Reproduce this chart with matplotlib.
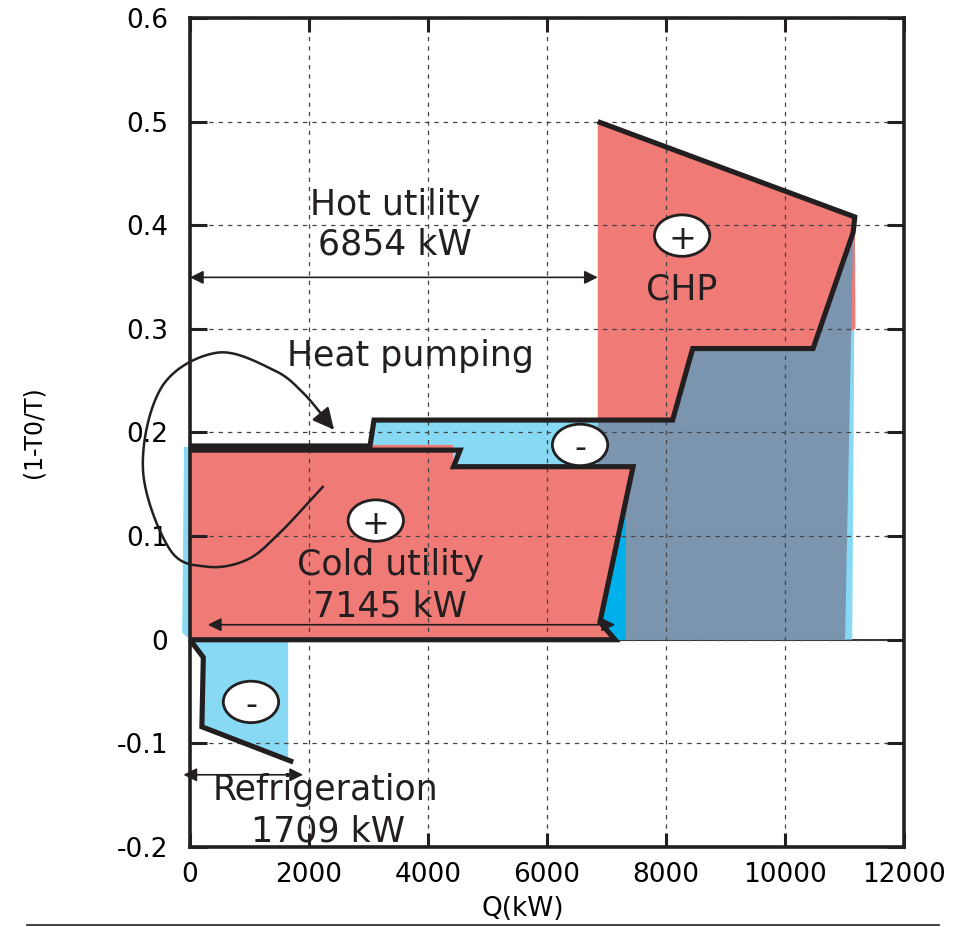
import numpy as np
import matplotlib
matplotlib.use("Agg")
import matplotlib.pyplot as plt
from matplotlib.patches import Polygon, Ellipse, FancyArrowPatch
from matplotlib.path import Path
from matplotlib.lines import Line2D

plt.rcParams["font.family"] = ["DejaVu Sans"]
plt.rcParams["axes.unicode_minus"] = False

# ---- axis ticks --------------------------------------------------------
x_ticks = [0, 2000, 4000, 6000, 8000, 10000, 12000]
x_tick_labels = ["0", "2000", "4000", "6000", "8000", "10000", "12000"]
y_ticks = [-0.2, -0.1, 0.0, 0.1, 0.2, 0.3, 0.4, 0.5, 0.6]
y_tick_labels = ["-0.2", "-0.1", "0", "0.1", "0.2", "0.3", "0.4", "0.5", "0.6"]

# ---- curves (Q in kW, Carnot factor 1-T0/T) -----------------------------
# hot-side composite including the CHP segment
hot_q = [0, 3026, 3093, 8112, 8449, 10472, 11146, 11174, 6854]
hot_c = [0.187, 0.187, 0.212, 0.212, 0.281, 0.281, 0.393, 0.408, 0.500]
# cold-utility boundary
cold_q = [0, 4540, 4430, 7447, 6890, 7145, 0]
cold_c = [0.183, 0.183, 0.167, 0.167, 0.017, 0.000, 0.000]
# refrigeration curve below ambient
refr_q = [0, 224, 200, 1735]
refr_c = [0.000, -0.017, -0.084, -0.118]

# ---- filled areas -------------------------------------------------------
area_light_blue_q = [-130, -100, 3026, 3093, 8112, 8449, 10472, 11146, 11178, 11130, 0]
area_light_blue_c = [0.007, 0.186, 0.186, 0.212, 0.212, 0.281, 0.281, 0.393, 0.405, 0.0, 0.0]
area_chp_q = [6854, 11174, 11185, 10472, 8449, 8112, 6854]
area_chp_c = [0.500, 0.408, 0.300, 0.281, 0.281, 0.212, 0.212]
area_slate_q = [6854, 8112, 8449, 10472, 11146, 11010, 7320, 7320, 6854]
area_slate_c = [0.212, 0.212, 0.281, 0.281, 0.393, 0.0, 0.0, 0.167, 0.167]
area_cyan_q = [6890, 7320, 7320, 6890]
area_cyan_c = [0.0, 0.0, 0.167, 0.167]
area_cold_q = [0, 0, 4420, 4420, 7447, 6890, 7145]
area_cold_c = [0.0, 0.188, 0.188, 0.167, 0.167, 0.017, 0.0]
area_refr_q = [0, 1650, 1650, 200, 224]
area_refr_c = [0.0, 0.0, -0.116, -0.084, -0.017]

# ---- duties -------------------------------------------------------------
hot_utility_kw = 6854
cold_utility_kw = 7145
refrigeration_kw = 1709

RED = "#f07a76"
SLATE = "#7b95af"
LIGHT_BLUE = "#87d9f4"
CYAN = "#00b0ea"
INK = "#231f20"

fig = plt.figure(figsize=(9.59, 9.27), dpi=100)
ax = fig.add_axes([0.1981, 0.0863, 0.7445, 0.8943])
ax.set_xlim(0, 12000)
ax.set_ylim(-0.2, 0.6)


def fill(q, c, color, clip=True):
    poly = Polygon(np.column_stack([q, c]), closed=True, facecolor=color,
                   edgecolor="none", zorder=1, clip_on=clip)
    ax.add_patch(poly)


ax.axhline(0, color=INK, lw=1.3, zorder=0.5)
fill(area_light_blue_q, area_light_blue_c, LIGHT_BLUE, clip=False)
fill(area_chp_q, area_chp_c, RED)
fill(area_slate_q, area_slate_c, SLATE)
fill(area_cyan_q, area_cyan_c, CYAN)
fill(area_cold_q, area_cold_c, RED)
fill(area_refr_q, area_refr_c, LIGHT_BLUE)

line_kw = dict(color=INK, lw=3.7, solid_joinstyle="miter", solid_capstyle="butt",
               zorder=3, clip_on=False)
ax.plot(hot_q, hot_c, **line_kw)
ax.plot(cold_q, cold_c, **line_kw)
ax.plot(refr_q, refr_c, **line_kw)

# grid, ticks and frame
ax.set_xticks(x_ticks)
ax.set_xticklabels(x_tick_labels)
ax.set_yticks(y_ticks)
ax.set_yticklabels(y_tick_labels)
ax.set_axisbelow(False)
ax.grid(True, color="#444444", lw=0.9, linestyle=(0, (3.5, 4)))
ax.tick_params(axis="x", direction="in", length=10, width=2.2, top=True,
               labelsize=19, pad=11, color=INK)
ax.tick_params(axis="y", direction="in", length=12, width=2.2, right=True,
               labelsize=19, pad=16, color=INK)
for s in ax.spines.values():
    s.set_linewidth(2.6)
    s.set_color(INK)
    s.set_zorder(4)

ax.set_xlabel("Q(kW)", fontsize=19)
ax.xaxis.set_label_coords(0.466, -0.059)
ax.set_ylabel("(1-T0/T)", fontsize=17)
ax.yaxis.set_label_coords(-0.203, 0.50)

# double-headed duty arrows
def duty_arrow(q0, q1, c):
    ax.annotate("", xy=(q1, c), xytext=(q0, c),
                arrowprops=dict(arrowstyle="<|-|>", lw=1.2, color=INK,
                                mutation_scale=20, shrinkA=0, shrinkB=0),
                annotation_clip=False, zorder=5)

duty_arrow(0, hot_utility_kw, 0.3497)
duty_arrow(300, cold_utility_kw, 0.0145)
duty_arrow(-110, 1900, -0.1303)

# sign markers
def sign(q, c, s):
    ax.add_patch(Ellipse((q, c), 930, 0.0400, facecolor="white",
                         edgecolor=INK, lw=2.0, zorder=4))
    ax.text(q, c, s, ha="center", va="center_baseline", fontsize=24,
            color=INK, zorder=5)

sign(3123, 0.115, "+")
sign(6556, 0.188, "-")
sign(8271, 0.390, "+")
sign(1025, -0.060, "-")

txt = dict(ha="center", va="baseline", fontsize=25, color=INK, zorder=5)
ax.text(3446, 0.410, "Hot utility", **txt)
ax.text(3446, 0.3716, f"{hot_utility_kw} kW", **txt)
ax.text(3713, 0.2638, "Heat pumping", **txt)
ax.text(8259, 0.328, "CHP", **txt)
ax.text(3377, 0.0627, "Cold utility", **txt)
ax.text(3362, 0.0225, f"{cold_utility_kw} kW", **txt)
ax.text(2282, -0.1544, "Refrigeration", **txt)
ax.text(2318, -0.1947, f"{refrigeration_kw} kW", **txt)

# heat-pumping loop arrow (Catmull-Rom through guide points)
loop_q = [2235, 1513, 958, 286, -336, -790, -471, 454, 1395, 1899, 2420]
loop_c = [0.1477, 0.1033, 0.0772, 0.0705, 0.0869, 0.1641, 0.2442, 0.2770, 0.2606, 0.2384, 0.2027]
P = np.column_stack([loop_q, loop_c])
P = np.vstack([2 * P[0] - P[1], P, 2 * P[-1] - P[-2]])
pts = []
for i in range(1, len(P) - 2):
    p0, p1, p2, p3 = P[i - 1], P[i], P[i + 1], P[i + 2]
    for t in np.linspace(0, 1, 20, endpoint=False):
        pts.append(0.5 * ((2 * p1) + (-p0 + p2) * t
                          + (2 * p0 - 5 * p1 + 4 * p2 - p3) * t ** 2
                          + (-p0 + 3 * p1 - 3 * p2 + p3) * t ** 3))
pts.append(P[-2])
loop = FancyArrowPatch(path=Path(np.array(pts)), arrowstyle="-|>",
                       mutation_scale=32, lw=1.8, color=INK,
                       transform=ax.transData, clip_on=False, zorder=5)
ax.add_patch(loop)

# rule under the figure
fig.add_artist(Line2D([27 / 959, 939 / 959], [1 - 925 / 927] * 2,
                      color=INK, lw=1.2))

fig.savefig("out.png", dpi=100)
